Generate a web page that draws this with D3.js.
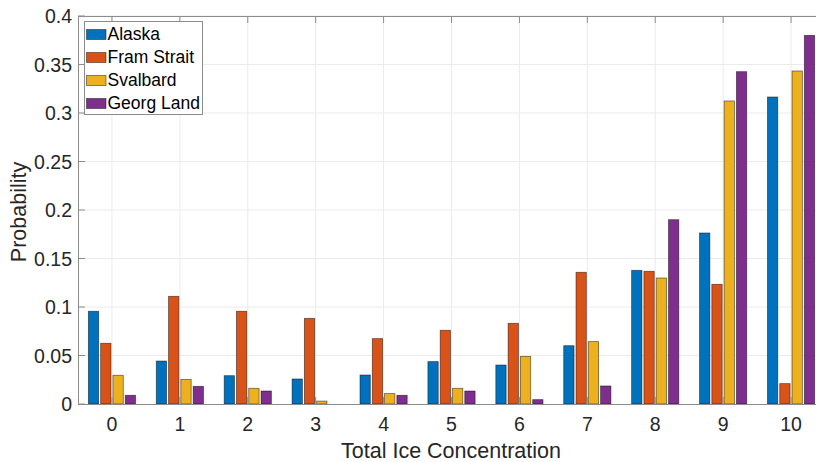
<!DOCTYPE html>
<html>
<head>
<meta charset="utf-8">
<script src="https://cdn.jsdelivr.net/npm/d3@7"></script>
<style>
  html, body { margin: 0; padding: 0; background: #fff; overflow: hidden; }
  svg { display: block; font-family: "Liberation Sans", Arial, sans-serif; }
</style>
</head>
<body>
<svg id="chart" width="816" height="462"></svg>
<script>
// Ice concentration classes (tenths)
const categories = [0, 1, 2, 3, 4, 5, 6, 7, 8, 9, 10];
const seriesNames = ["Alaska", "Fram Strait", "Svalbard", "Georg Land"];
const alaska    = [0.0956, 0.0443, 0.0292, 0.0258, 0.0299, 0.0437, 0.0402, 0.0601, 0.1378, 0.1763, 0.3165];
const framStrait= [0.0626, 0.1110, 0.0956, 0.0883, 0.0674, 0.0760, 0.0832, 0.1358, 0.1368, 0.1234, 0.0210];
const svalbard  = [0.0296, 0.0254, 0.0162, 0.0030, 0.0107, 0.0162, 0.0491, 0.0643, 0.1299, 0.3124, 0.3433];
const georgLand = [0.0090, 0.0182, 0.0134, 0.0000, 0.0090, 0.0134, 0.0045, 0.0186, 0.1900, 0.3426, 0.3800];
const yTicks = [0, 0.05, 0.1, 0.15, 0.2, 0.25, 0.3, 0.35, 0.4];
const colors = ["#0072BD", "#D95319", "#EDB120", "#7E2F8E"];

const seriesValues = [alaska, framStrait, svalbard, georgLand];

const svg = d3.select("#chart");
const plotL = 78, plotR = 825, plotT = 16, plotB = 404;

const x = d3.scaleLinear().domain([-0.5, 10.5]).range([plotL, plotR]);
const y = d3.scaleLinear().domain([0, 0.4]).range([plotB, plotT]);
// position of each series inside a group, in category units
const xs = d3.scaleBand().domain(seriesNames).range([-0.3475, 0.3475]).paddingInner(0.16);

const textColor = "#262626";
const axisColor = "#8c8c8c";
const gridColor = "#ebebeb";

// grid
const grid = svg.append("g");
grid.selectAll(".gx").data(categories).join("line")
  .attr("x1", d => x(d)).attr("x2", d => x(d))
  .attr("y1", plotT).attr("y2", plotB)
  .attr("stroke", gridColor).attr("stroke-width", 1);
grid.selectAll(".gy").data(yTicks.slice(1)).join("line")
  .attr("x1", plotL).attr("x2", plotR)
  .attr("y1", d => y(d)).attr("y2", d => y(d))
  .attr("stroke", gridColor).attr("stroke-width", 1);

// bars
const rows = [];
categories.forEach((c, i) => {
  seriesNames.forEach((s, k) => rows.push({ c, s, k, v: seriesValues[k][i] }));
});
const bw = x(xs.bandwidth()) - x(0);
svg.append("g").selectAll("rect").data(rows.filter(d => d.v > 0)).join("rect")
  .attr("x", d => x(d.c + xs(d.s)))
  .attr("width", bw)
  .attr("y", d => y(d.v))
  .attr("height", d => y(0) - y(d.v))
  .attr("fill", d => colors[d.k])
  .attr("stroke", "rgba(0,0,0,0.55)")
  .attr("stroke-width", 0.8);

// axes box with inward ticks
const ax = svg.append("g").attr("stroke", axisColor).attr("stroke-width", 1).attr("fill", "none");
ax.append("line").attr("x1", plotL).attr("x2", plotR).attr("y1", plotB + 0.5).attr("y2", plotB + 0.5);
ax.append("line").attr("x1", plotL).attr("x2", plotR).attr("y1", plotT + 0.5).attr("y2", plotT + 0.5);
ax.append("line").attr("x1", plotL + 0.5).attr("x2", plotL + 0.5).attr("y1", plotT).attr("y2", plotB);
ax.append("line").attr("x1", plotR - 0.5).attr("x2", plotR - 0.5).attr("y1", plotT).attr("y2", plotB);
categories.forEach(c => {
  ax.append("line").attr("x1", x(c)).attr("x2", x(c)).attr("y1", plotB).attr("y2", plotB - 7);
  ax.append("line").attr("x1", x(c)).attr("x2", x(c)).attr("y1", plotT).attr("y2", plotT + 7);
});
yTicks.forEach(t => {
  ax.append("line").attr("x1", plotL).attr("x2", plotL + 7).attr("y1", y(t)).attr("y2", y(t));
});

// tick labels
svg.append("g").selectAll("text").data(categories).join("text")
  .attr("x", d => x(d)).attr("y", 430.5)
  .attr("text-anchor", "middle")
  .attr("font-size", 19.5).attr("fill", textColor)
  .text(d => d);
svg.append("g").selectAll("text").data(yTicks).join("text")
  .attr("x", 72).attr("y", d => y(d) + 7)
  .attr("text-anchor", "end")
  .attr("font-size", 19.5).attr("fill", textColor)
  .text(d => d3.format("~g")(d));

// axis titles
svg.append("text")
  .attr("x", 451).attr("y", 457.5)
  .attr("text-anchor", "middle").attr("font-size", 21.5).attr("fill", textColor)
  .text("Total Ice Concentration");
svg.append("text")
  .attr("transform", `translate(25.5,212) rotate(-90)`)
  .attr("text-anchor", "middle").attr("font-size", 21.5).attr("fill", textColor)
  .text("Probability");

// legend
const lg = svg.append("g");
lg.append("rect").attr("x", 84.5).attr("y", 21.5).attr("width", 118).attr("height", 93)
  .attr("fill", "#fff").attr("stroke", "#8c8c8c").attr("stroke-width", 1);
seriesNames.forEach((s, k) => {
  const cy = 34.5 + k * 23;
  lg.append("rect").attr("x", 86.5).attr("y", cy - 5).attr("width", 19.5).attr("height", 10)
    .attr("fill", colors[k]).attr("stroke", "rgba(0,0,0,0.55)").attr("stroke-width", 0.8);
  lg.append("text").attr("x", 107.5).attr("y", cy + 5.8)
    .attr("font-size", 17.5).attr("fill", "#000").text(s);
});
</script>
</body>
</html>
